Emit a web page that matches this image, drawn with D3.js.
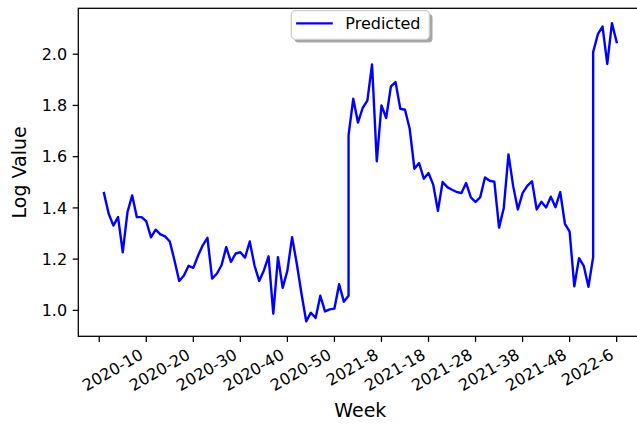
<!DOCTYPE html>
<html><head><meta charset="utf-8">
<script src="https://cdn.jsdelivr.net/npm/d3@7"></script>
<style>
body{margin:0;background:#fff}
svg{display:block}
text{font-family:"DejaVu Sans",sans-serif;fill:#000}
</style>
</head><body>
<svg id="c" width="637" height="425"></svg>
<script>
// ---- data ----
const values2020 = [1.458, 1.378, 1.331, 1.364, 1.227, 1.383, 1.449, 1.364, 1.364, 1.348,
  1.285, 1.315, 1.297, 1.289, 1.269, 1.195, 1.115, 1.136, 1.174, 1.166,
  1.213, 1.254, 1.283, 1.124, 1.143, 1.176, 1.247, 1.189, 1.222, 1.227,
  1.206, 1.269, 1.176, 1.115, 1.156, 1.211, 0.987, 1.208, 1.088, 1.155,
  1.286, 1.182, 1.065, 0.957, 0.991, 0.970, 1.057, 0.996, 1.004, 1.007,
  1.102, 1.034, 1.057];
const values2021 = [1.683, 1.826, 1.733, 1.790, 1.819, 1.960, 1.582, 1.800, 1.751, 1.874,
  1.891, 1.787, 1.783, 1.709, 1.553, 1.575, 1.514, 1.536, 1.491, 1.389,
  1.501, 1.481, 1.471, 1.462, 1.458, 1.497, 1.441, 1.423, 1.442, 1.519,
  1.506, 1.502, 1.323, 1.400, 1.609, 1.485, 1.394, 1.458, 1.486, 1.504,
  1.394, 1.424, 1.402, 1.444, 1.403, 1.462, 1.338, 1.307, 1.094, 1.204,
  1.174, 1.092, 1.208];
const values2022 = [2.008, 2.078, 2.108, 1.962, 2.121, 2.047];
const weeks2020 = d3.range(1, values2020.length + 1).map(w => "2020-" + w);
const weeks2021 = d3.range(1, values2021.length + 1).map(w => "2021-" + w);
const weeks2022 = d3.range(1, values2022.length + 1).map(w => "2022-" + w);
const tickWeeks  = ["2020-0", "2020-10", "2020-20", "2020-30", "2020-40", "2020-50",
                    "2021-8", "2021-18", "2021-28", "2021-38", "2021-48", "2022-6"];
const tickLabels = ["", "2020-10", "2020-20", "2020-30", "2020-40", "2020-50",
                    "2021-8", "2021-18", "2021-28", "2021-38", "2021-48", "2022-6"];
const yTicks = [1.0, 1.2, 1.4, 1.6, 1.8, 2.0];
const seriesName = "Predicted";
const xTitle = "Week", yTitle = "Log Value";

// week label "YYYY-W" -> date (Monday of week W, week 1 = first Monday of year)
function weekDate(label) {
  const [y, w] = label.split("-").map(Number);
  const dow = new Date(Date.UTC(y, 0, 1)).getUTCDay();
  const off = (8 - dow) % 7;
  return new Date(Date.UTC(y, 0, 1 + off + 7 * (w - 1)));
}

const data = [];
[[weeks2020, values2020], [weeks2021, values2021], [weeks2022, values2022]].forEach(([ws, vs]) => {
  ws.forEach((w, i) => data.push({ week: w, date: weekDate(w), value: vs[i] }));
});

// ---- layout ----
const PT = 1.6;
const L = 78.3, R = 642.3, T = 8.3, B = 336.3;
const svg = d3.select("#c");

const dExt = d3.extent(data, d => +d.date);
const dPad = (dExt[1] - dExt[0]) * 0.05;
const x = d3.scaleUtc().domain([new Date(dExt[0] - dPad), new Date(dExt[1] + dPad)]).range([L, R]);
const vExt = d3.extent(data, d => d.value);
const vPad = (vExt[1] - vExt[0]) * 0.05;
const y = d3.scaleLinear().domain([vExt[0] - vPad, vExt[1] + vPad]).range([B, T]);

// line
const line = d3.line().x(d => x(d.date)).y(d => y(d.value));
svg.append("path").datum(data)
  .attr("d", line)
  .attr("fill", "none")
  .attr("stroke", "#0000ff")
  .attr("stroke-width", 1.5 * PT)
  .attr("stroke-linejoin", "round")
  .attr("stroke-linecap", "square");

// spines
svg.append("rect").attr("x", L).attr("y", T).attr("width", R - L).attr("height", B - T)
  .attr("fill", "none").attr("stroke", "#000").attr("stroke-width", 0.8 * PT);

// y ticks
const tl = 3.5 * PT, pad = 3.5 * PT;
const yg = svg.append("g");
yTicks.forEach(v => {
  yg.append("line").attr("x1", L - tl).attr("x2", L).attr("y1", y(v)).attr("y2", y(v))
    .attr("stroke", "#000").attr("stroke-width", 0.8 * PT);
  yg.append("text").attr("x", L - tl - pad).attr("y", y(v)).attr("dy", "0.36em")
    .attr("text-anchor", "end").attr("font-size", 16).text(d3.format(".1f")(v));
});

// x ticks
const xg = svg.append("g");
tickWeeks.forEach((w, i) => {
  const tx = x(weekDate(w));
  xg.append("line").attr("x1", tx).attr("x2", tx).attr("y1", B).attr("y2", B + tl)
    .attr("stroke", "#000").attr("stroke-width", 0.8 * PT);
  if (tickLabels[i]) {
    const fs = 16, asc = 0.76 * fs, desc = 0.24 * fs;
    const ox = tx - 0.5 * desc, oy = B + tl + pad + 0.866 * asc;
    xg.append("text").attr("transform", `translate(${ox},${oy}) rotate(-30)`)
      .attr("text-anchor", "end").attr("font-size", fs).text(tickLabels[i]);
  }
});

// axis titles
svg.append("text").attr("x", (L + R) / 2).attr("y", 417).attr("text-anchor", "middle")
  .attr("font-size", 19).text(xTitle);
svg.append("text").attr("transform", `translate(25.5,${(T + B) / 2}) rotate(-90)`)
  .attr("text-anchor", "middle").attr("font-size", 19).text(yTitle);

// legend
const lw = 138, lh = 28.6, lx = (L + R) / 2 - lw / 2, ly = 10.7;
const lg = svg.append("g");
lg.append("rect").attr("x", lx + 3.2).attr("y", ly + 3.2).attr("width", lw).attr("height", lh)
  .attr("rx", 4).attr("fill", "#a6a6a6");
lg.append("rect").attr("x", lx).attr("y", ly).attr("width", lw).attr("height", lh)
  .attr("rx", 4).attr("fill", "#fff").attr("stroke", "#cccccc").attr("stroke-width", 0.8 * PT);
lg.append("line").attr("x1", lx + 4.8).attr("x2", lx + 41.5).attr("y1", 23.4).attr("y2", 23.4)
  .attr("stroke", "#0000ff").attr("stroke-width", 1.5 * PT);
lg.append("text").attr("x", lx + 54).attr("y", 23.4).attr("dy", "0.36em")
  .attr("font-size", 16).text(seriesName);
</script>
</body></html>
